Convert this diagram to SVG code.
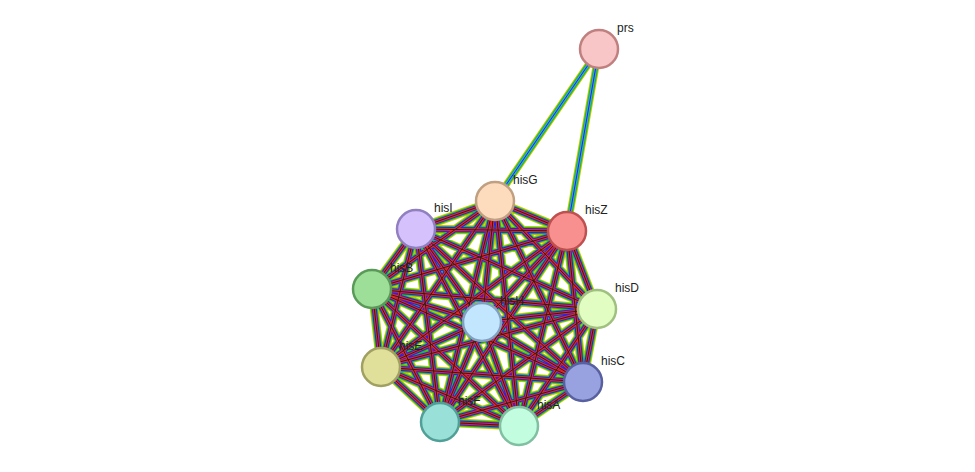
<svg xmlns="http://www.w3.org/2000/svg" xmlns:xlink="http://www.w3.org/1999/xlink" width="975" height="472" viewBox="0 0 975 472">
<style>
.n{stroke-width:2.5}
text{font-family:"Liberation Sans",Arial,sans-serif;font-size:12px;fill:#222}
</style>
<defs>
<path id="E" fill="none" d="M495 201L567 231M495 201L416 229M495 201L372 289M495 201L597 309M495 201L482 322M495 201L381 367M495 201L583 382M495 201L440 422M495 201L519 426
M567 231L416 229M567 231L372 289M567 231L597 309M567 231L482 322M567 231L381 367M567 231L583 382M567 231L440 422M567 231L519 426
M416 229L372 289M416 229L597 309M416 229L482 322M416 229L381 367M416 229L583 382M416 229L440 422M416 229L519 426
M372 289L597 309M372 289L482 322M372 289L381 367M372 289L583 382M372 289L440 422M372 289L519 426
M597 309L482 322M597 309L381 367M597 309L583 382M597 309L440 422M597 309L519 426
M482 322L381 367M482 322L583 382M482 322L440 422M482 322L519 426
M381 367L583 382M381 367L440 422M381 367L519 426
M583 382L440 422M583 382L519 426M440 422L519 426"/>
<path id="P" fill="none" d="M599 49L495 201M599 49L567 231"/>
</defs>
<g id="connectors">
<use xlink:href="#E" stroke="#c8c800" stroke-width="9"/>
<use xlink:href="#E" stroke="#22bb22" stroke-width="7"/>
<use xlink:href="#E" stroke="#2222ee" stroke-width="5"/>
<use xlink:href="#E" stroke="#ee2222" stroke-width="3"/>
<use xlink:href="#E" stroke="#222222" stroke-width="1"/>
<use xlink:href="#P" stroke="#c8c800" stroke-width="7"/>
<use xlink:href="#P" stroke="#22bb22" stroke-width="5"/>
<use xlink:href="#P" stroke="#33aadd" stroke-width="3"/>
<use xlink:href="#P" stroke="#2222ee" stroke-width="1"/>
</g>
<g id="prs"><circle class="n" cx="599" cy="49" r="19" fill="#f8c6c6" stroke="#c08080"/><text x="617" y="32">prs</text></g>
<g id="hisG"><circle class="n" cx="495" cy="201" r="19" fill="#fddcbe" stroke="#c0a080"/><text x="513" y="184">hisG</text></g>
<g id="hisZ"><circle class="n" cx="567" cy="231" r="19" fill="#f99090" stroke="#c05050"/><text x="585" y="214">hisZ</text></g>
<g id="hisI"><circle class="n" cx="416" cy="229" r="19" fill="#d5c2fd" stroke="#9080c0"/><text x="434" y="212">hisI</text></g>
<g id="hisB"><circle class="n" cx="372" cy="289" r="19" fill="#9ddf98" stroke="#5a9a58"/><text x="390" y="272">hisB</text></g>
<g id="hisD"><circle class="n" cx="597" cy="309" r="19" fill="#e2fdc2" stroke="#a0c080"/><text x="615" y="292">hisD</text></g>
<g id="hisH"><circle class="n" cx="482" cy="322" r="19" fill="#c2e6fd" stroke="#80a0c0"/><text x="500" y="305">hisH</text></g>
<g id="hisE"><circle class="n" cx="381" cy="367" r="19" fill="#e0e09a" stroke="#a0a060"/><text x="399" y="350">hisE</text></g>
<g id="hisC"><circle class="n" cx="583" cy="382" r="19" fill="#98a2e0" stroke="#5860a0"/><text x="601" y="365">hisC</text></g>
<g id="hisF"><circle class="n" cx="440" cy="422" r="19" fill="#98e0d8" stroke="#50a098"/><text x="458" y="405">hisF</text></g>
<g id="hisA"><circle class="n" cx="519" cy="426" r="19" fill="#c2fde0" stroke="#80c0a0"/><text x="537" y="409">hisA</text></g>
</svg>
